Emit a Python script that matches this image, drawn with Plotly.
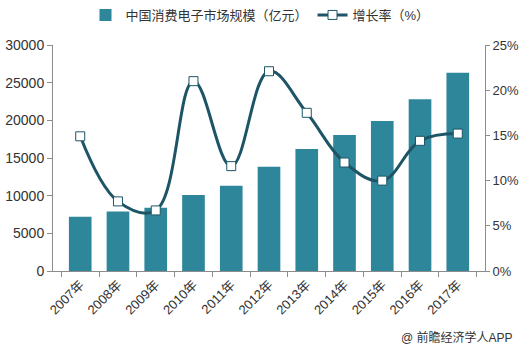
import plotly.graph_objects as go

years = ["2007年", "2008年", "2009年", "2010年", "2011年", "2012年",
         "2013年", "2014年", "2015年", "2016年", "2017年"]
market_size = [7200, 7900, 8400, 10100, 11300, 13850, 16200, 18050, 19900, 22800, 26300]
growth_rate = [14.9, 7.7, 6.7, 21.0, 11.6, 22.1, 17.5, 12.0, 10.0, 14.4, 15.2]

BAR_COLOR = "#2e869b"
LINE_COLOR = "#1d5566"
AXIS_COLOR = "#8c8c8c"
FONT = "Liberation Sans, Noto Sans CJK SC, sans-serif"

fig = go.Figure()
fig.add_trace(go.Bar(
    x=years, y=market_size, name="中国消费电子市场规模（亿元）",
    marker=dict(color=BAR_COLOR, line=dict(width=0)),
    yaxis="y",
))
fig.add_trace(go.Scatter(
    x=years, y=growth_rate, name="增长率（%）", yaxis="y2",
    mode="lines+markers",
    line=dict(color=LINE_COLOR, width=3, shape="spline", smoothing=1.1),
    marker=dict(symbol="square", size=9, color="white",
                line=dict(color=LINE_COLOR, width=1)),
))

fig.update_layout(
    width=520, height=348,
    margin=dict(l=53, r=35, t=45, b=77),
    paper_bgcolor="white", plot_bgcolor="white",
    font=dict(family=FONT, size=13, color="#333333"),
    bargap=0.4,
    showlegend=True,
    legend=dict(orientation="h", xref="container", x=0.5, xanchor="center",
                y=1.0, yanchor="top", yref="container",
                font=dict(size=13, color="#333333"),
                itemwidth=30, tracegroupgap=0),
    xaxis=dict(
        automargin=False,
        showline=True, linecolor=AXIS_COLOR, linewidth=1,
        ticks="outside", tickson="boundaries", ticklen=5, tickcolor=AXIS_COLOR,
        tickangle=-45, tickfont=dict(size=13, color="#333333"),
        showgrid=False,
    ),
    yaxis=dict(
        automargin=False,
        range=[0, 30000], dtick=5000, tickformat="d",
        showline=True, linecolor=AXIS_COLOR, linewidth=1,
        ticks="outside", ticklen=5, tickcolor=AXIS_COLOR,
        showgrid=False, zeroline=False,
        tickfont=dict(size=14, color="#333333"),
    ),
    yaxis2=dict(
        automargin=False,
        range=[0, 25], dtick=5, ticksuffix="%",
        overlaying="y", side="right",
        showline=True, linecolor=AXIS_COLOR, linewidth=1,
        ticks="outside", ticklen=4, tickcolor=AXIS_COLOR,
        showgrid=False, zeroline=False,
        tickfont=dict(size=13, color="#333333"),
    ),
)

fig.add_annotation(
    text="@ 前瞻经济学人APP", xref="paper", yref="paper",
    x=1.07, y=-0.25, xanchor="right", yanchor="top", showarrow=False,
    font=dict(size=12, color="#333333", family=FONT),
)

fig.write_html("out.html")
